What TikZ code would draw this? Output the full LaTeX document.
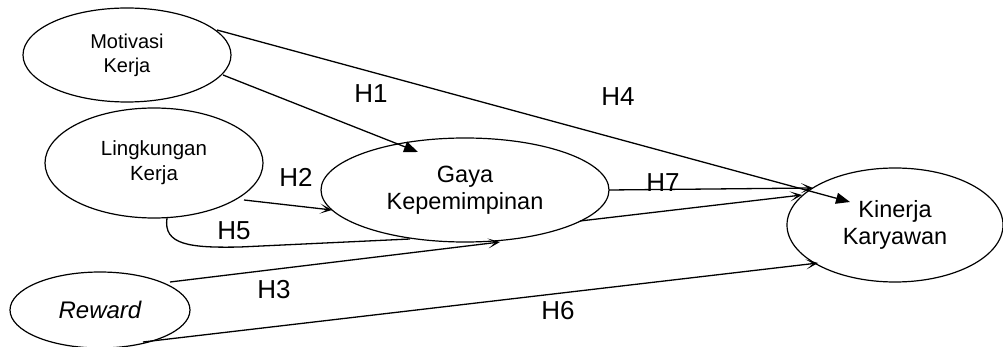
\documentclass[tikz,border=0pt]{standalone}
\usepackage{fontspec}
\setmainfont{Liberation Sans}
\usetikzlibrary{arrows.meta,shapes.geometric}
\begin{document}
\begin{tikzpicture}[x=1pt,y=-1pt,
  ell/.style={draw, ellipse, inner sep=0pt, outer sep=0pt, line width=1.2pt, align=center},
  conn/.style={line width=1.3pt},
  tri/.style={-{Triangle[length=14pt,width=11pt]}},
  opn/.style={-{Stealth[length=12pt,width=10pt,inset=7pt]}},
  lab/.style={font=\fontsize{26}{30}\selectfont, inner sep=0pt}]
\useasboundingbox (0,0) rectangle (1003,347);
\node[ell, minimum width=208pt, minimum height=94pt, font=\fontsize{20}{24}\selectfont] (mot) at (127,55) {Motivasi\\Kerja};
\node[ell, minimum width=218pt, minimum height=110pt, font=\fontsize{20.5}{25}\selectfont] (lin) at (154,163) {Lingkungan\\Kerja};
\node[ell, minimum width=288pt, minimum height=104pt, font=\fontsize{23.5}{27}\selectfont] (gay) at (465,190) {Gaya\\Kepemimpinan};
\node[ell, minimum width=216pt, minimum height=114pt, font=\fontsize{23.5}{27}\selectfont] (kin) at (895,225) {Kinerja\\Karyawan};
\node[ell, minimum width=180pt, minimum height=76pt, font=\fontsize{24}{28}\selectfont\itshape] (rew) at (100,310) {Reward};

% connectors
\draw[conn,tri] ([shift={(90,-25)}]mot.center) -- ([shift={(-45,-23)}]kin.center);
\draw[conn,tri] ([shift={(96,20)}]mot.center) -- ([shift={(-47,-38)}]gay.center);
\draw[conn,opn] ([shift={(90,37)}]lin.center) -- ([shift={(-133,20)}]gay.center);
\draw[conn,opn] (gay.east) -- ([shift={(-82,-37)}]kin.center);
\draw[conn] ([shift={(13,55)}]lin.center) .. controls (163,245) and (190,248) .. (240,247) -- ([shift={(-55,49)}]gay.center);
\draw[conn,opn] ([shift={(115,31)}]gay.center) -- ([shift={(-93,-30)}]kin.center);
\draw[conn,opn] ([shift={(70,-28)}]rew.center) -- ([shift={(35,52)}]gay.center);
\draw[conn,opn] ([shift={(43,32)}]rew.center) -- ([shift={(-77,38)}]kin.center);

% labels
\node[lab] (h1) at (371,94) {H1};
\node[lab] (h4) at (618,97) {H4};
\node[lab] (h2) at (296,177) {H2};
\node[lab] (h7) at (663,183) {H7};
\node[lab] (h5) at (234,231) {H5};
\node[lab] (h3) at (274,290) {H3};
\node[lab] (h6) at (558,311) {H6};
\end{tikzpicture}
\end{document}
